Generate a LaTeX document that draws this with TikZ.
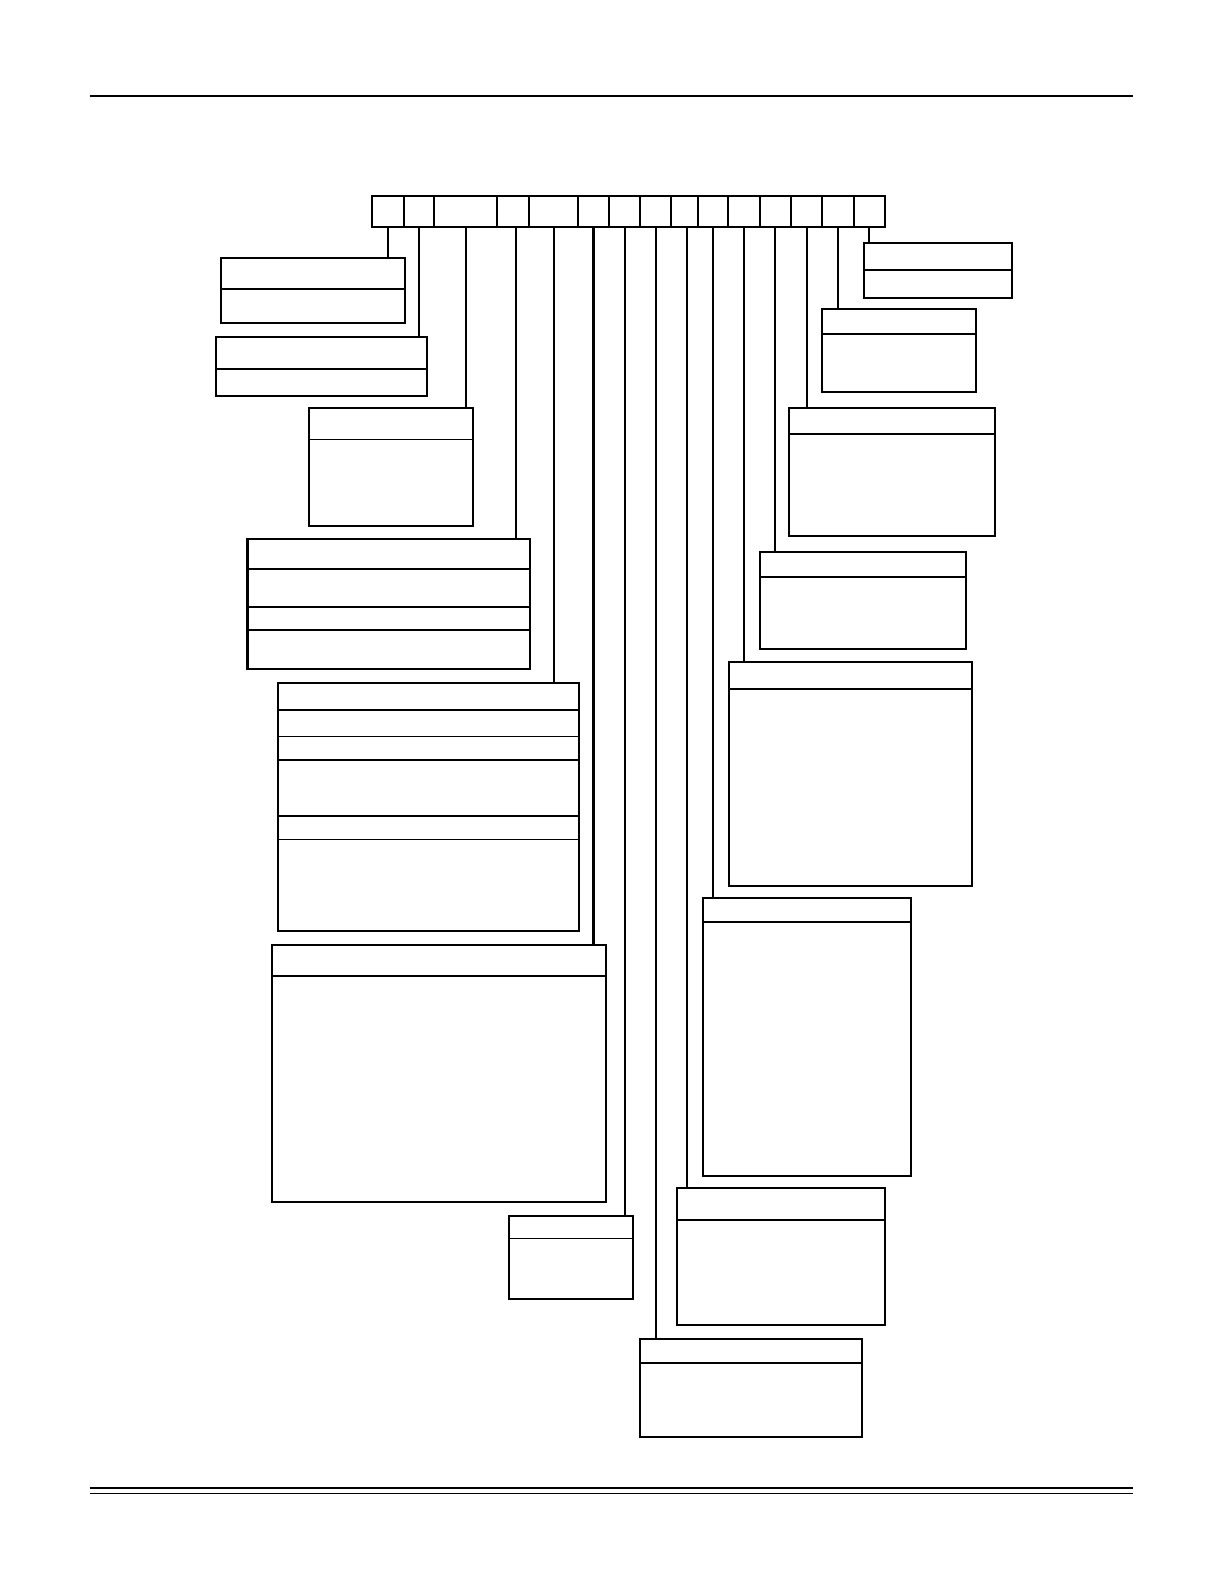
\documentclass[tikz,border=0pt]{standalone}
\usetikzlibrary{positioning}

\tikzstyle{cell} = [rectangle, draw=black, line width=2pt, inner sep=0pt, outer sep=0pt, minimum height=31]
\tikzstyle{field} = [rectangle, draw=black, line width=2pt, inner sep=0pt, outer sep=0pt, anchor=north west]
\tikzstyle{divider} = [draw=black, line width=1.8pt]
\tikzstyle{lead} = [draw=black, line width=1.8pt]

\begin{document}
\begin{tikzpicture}[x=1pt, y=-1pt]
			\useasboundingbox (0,0) rectangle (1212,1568);
			\draw [line width=1.3pt] (89,95) -- (1122,95);
			\draw [line width=2.2pt] (89,1473) -- (1122,1473);
			\draw [line width=1.1pt] (89,1478) -- (1122,1478);

			\node (cell1) [cell, anchor=north west, minimum width=32] at (368,194) {};
			\node (cell2) [cell, minimum width=30, right=0pt of cell1] {};
			\node (cell3) [cell, minimum width=62, right=0pt of cell2] {};
			\node (cell4) [cell, minimum width=32, right=0pt of cell3] {};
			\node (cell5) [cell, minimum width=48, right=0pt of cell4] {};
			\node (cell6) [cell, minimum width=31, right=0pt of cell5] {};
			\node (cell7) [cell, minimum width=31, right=0pt of cell6] {};
			\node (cell8) [cell, minimum width=30, right=0pt of cell7] {};
			\node (cell9) [cell, minimum width=27, right=0pt of cell8] {};
			\node (cell10) [cell, minimum width=30, right=0pt of cell9] {};
			\node (cell11) [cell, minimum width=31, right=0pt of cell10] {};
			\node (cell12) [cell, minimum width=31, right=0pt of cell11] {};
			\node (cell13) [cell, minimum width=31, right=0pt of cell12] {};
			\node (cell14) [cell, minimum width=31, right=0pt of cell13] {};
			\node (cell15) [cell, minimum width=31, right=0pt of cell14] {};

			\node (field1) [field, minimum width=182, minimum height=65] at (219,255) {};
			\node (field2) [field, minimum width=209, minimum height=58] at (214,334) {};
			\node (field3) [field, minimum width=162, minimum height=117] at (306,404) {};
			\node (field4) [field, minimum width=280, minimum height=128] at (245,534) {};
			\node (field5) [field, minimum width=298, minimum height=246] at (275,676) {};
			\node (field6) [field, minimum width=331, minimum height=255] at (269,935) {};
			\node (field7) [field, minimum width=123, minimum height=82] at (504,1204) {};
			\node (field8) [field, minimum width=219, minimum height=97] at (634,1325) {};
			\node (field9) [field, minimum width=206, minimum height=136] at (670,1176) {};
			\node (field10) [field, minimum width=206, minimum height=275] at (696,889) {};
			\node (field11) [field, minimum width=240, minimum height=222] at (722,655) {};
			\node (field12) [field, minimum width=204, minimum height=96] at (752,546) {};
			\node (field13) [field, minimum width=204, minimum height=127] at (781,404) {};
			\node (field14) [field, minimum width=152, minimum height=82] at (814,306) {};
			\node (field15) [field, minimum width=147, minimum height=54] at (855,241) {};

			\draw [divider] (field1.west |- 0,286) -- (field1.east |- 0,286);
			\draw [divider] (field2.west |- 0,365) -- (field2.east |- 0,365);
			\draw [divider] (field3.west |- 0,435) -- (field3.east |- 0,435);
			\draw [divider] (field4.west |- 0,563) -- (field4.east |- 0,563);
			\draw [divider] (field4.west |- 0,601) -- (field4.east |- 0,601);
			\draw [divider] (field4.west |- 0,624) -- (field4.east |- 0,624);
			\draw [divider] (field5.west |- 0,703) -- (field5.east |- 0,703);
			\draw [divider] (field5.west |- 0,729) -- (field5.east |- 0,729);
			\draw [divider] (field5.west |- 0,752) -- (field5.east |- 0,752);
			\draw [divider] (field5.west |- 0,808) -- (field5.east |- 0,808);
			\draw [divider] (field5.west |- 0,831) -- (field5.east |- 0,831);
			\draw [divider] (field6.west |- 0,966) -- (field6.east |- 0,966);
			\draw [divider] (field7.west |- 0,1226) -- (field7.east |- 0,1226);
			\draw [divider] (field8.west |- 0,1349) -- (field8.east |- 0,1349);
			\draw [divider] (field9.west |- 0,1208) -- (field9.east |- 0,1208);
			\draw [divider] (field10.west |- 0,913) -- (field10.east |- 0,913);
			\draw [divider] (field11.west |- 0,682) -- (field11.east |- 0,682);
			\draw [divider] (field12.west |- 0,571) -- (field12.east |- 0,571);
			\draw [divider] (field13.west |- 0,430) -- (field13.east |- 0,430);
			\draw [divider] (field14.west |- 0,331) -- (field14.east |- 0,331);
			\draw [divider] (field15.west |- 0,267) -- (field15.east |- 0,267);

			\draw [lead] (cell1.south) -- (cell1.south |- field1.north);
			\draw [lead] (cell2.south) -- (cell2.south |- field2.north);
			\draw [lead] (cell3.south) -- (cell3.south |- field3.north);
			\draw [lead] ([xshift=3pt]cell4.south) -- ([xshift=3pt]cell4.south |- field4.north);
			\draw [lead] (cell5.south) -- (cell5.south |- field5.north);
			\draw [lead, line width=2.6pt] (cell6.south) -- (cell6.south |- field6.north);
			\draw [lead] (cell7.south) -- (cell7.south |- field7.north);
			\draw [lead] (cell8.south) -- (cell8.south |- field8.north);
			\draw [lead] ([xshift=2.5pt]cell9.south) -- ([xshift=2.5pt]cell9.south |- field9.north);
			\draw [lead] (cell10.south) -- (cell10.south |- field10.north);
			\draw [lead] (cell11.south) -- (cell11.south |- field11.north);
			\draw [lead] (cell12.south) -- (cell12.south |- field12.north);
			\draw [lead] (cell13.south) -- (cell13.south |- field13.north);
			\draw [lead] (cell14.south) -- (cell14.south |- field14.north);
			\draw [lead] (cell15.south) -- (cell15.south |- field15.north);

		\end{tikzpicture}
\end{document}
